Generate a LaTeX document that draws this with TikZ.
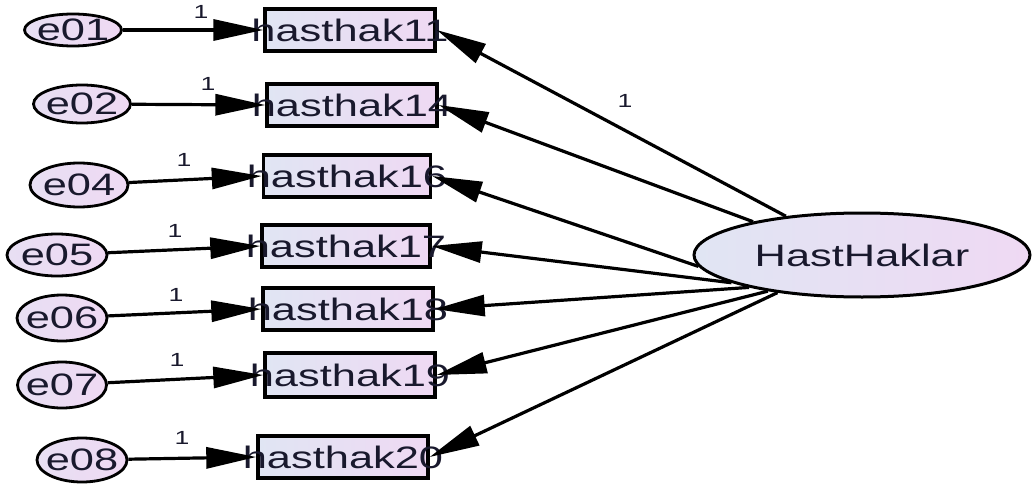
\documentclass[tikz,border=0pt]{standalone}
\usepackage{fontspec}
\setmainfont{Liberation Sans}
\newfontfamily\widefont[FakeStretch=1.4]{Liberation Sans}
\usetikzlibrary{arrows.meta,shapes.geometric}
\definecolor{fillA}{RGB}{224,229,243}
\definecolor{fillB}{RGB}{239,217,243}
\definecolor{ink}{RGB}{25,25,45}
\begin{document}
\begin{tikzpicture}[x=1pt,y=-1pt,
  obs/.style={draw=black, line width=3.4pt, left color=fillA, right color=fillB,
    minimum width=170pt, minimum height=42pt, inner sep=0pt,
    font=\widefont\fontsize{31}{31}\selectfont, text=ink},
  err/.style={ellipse, draw=black, line width=2.8pt, left color=fillA!50!fillB, right color=fillB,
    inner sep=0pt, font=\widefont\fontsize{31}{31}\selectfont, text=ink},
  latent/.style={ellipse, draw=black, line width=3pt, left color=fillA, right color=fillB,
    minimum width=336pt, minimum height=84pt, inner sep=0pt,
    font=\widefont\fontsize{31}{31}\selectfont, text=ink},
  pathA/.style={line width=3.2pt, -{Triangle[length=50pt,width=21pt]}},
  one/.style={font=\widefont\fontsize{19}{19}\selectfont, text=ink, inner sep=0pt}
]
\fill[white] (0,0) rectangle (1032,492);
\useasboundingbox (0,0) rectangle (1032,492);

% latent
\node[latent] (lat) at (862,255) {\makebox[0pt]{HastHaklar}};

% observed
\node[obs] (b11) at (350,30)  {\makebox[0pt]{hasthak11}};
\node[obs] (b14) at (352,105) {\makebox[0pt]{hasthak14}};
\node[obs, minimum width=167pt] (b16) at (347,176) {\makebox[0pt]{hasthak16}};
\node[obs, minimum width=168pt] (b17) at (346,246) {\makebox[0pt]{hasthak17}};
\node[obs] (b18) at (348,309) {\makebox[0pt]{hasthak18}};
\node[obs, minimum height=44pt] (b19) at (350,375) {\makebox[0pt]{hasthak19}};
\node[obs] (b20) at (343,457) {\makebox[0pt]{hasthak20}};

% errors
\node[err, minimum width=97pt, minimum height=32pt] (e01) at (73,30)  {\makebox[0pt]{e01}};
\node[err, minimum width=97pt, minimum height=38pt] (e02) at (82,104) {\makebox[0pt]{e02}};
\node[err, minimum width=98pt, minimum height=44pt] (e04) at (79,185) {\makebox[0pt]{e04}};
\node[err, minimum width=100pt, minimum height=42pt] (e05) at (57,255) {\makebox[0pt]{e05}};
\node[err, minimum width=90pt, minimum height=46pt] (e06) at (62,318) {\makebox[0pt]{e06}};
\node[err, minimum width=89pt, minimum height=46pt] (e07) at (62,385) {\makebox[0pt]{e07}};
\node[err, minimum width=90pt, minimum height=44pt] (e08) at (82,460) {\makebox[0pt]{e08}};

% error paths
\draw[pathA] (e01) -- (b11.west);
\draw[pathA] (e02) -- (b14.west);
\draw[pathA] (e04) -- (b16.west);
\draw[pathA] (e05) -- (b17.west);
\draw[pathA] (e06) -- (b18.west);
\draw[pathA] (e07) -- (b19.west);
\draw[pathA] (e08) -- (b20.west);

% loadings
\draw[pathA] (lat.153) -- (b11.east);
\draw[pathA] (lat.163) -- (b14.east);
\draw[pathA] (lat.184.6) -- (b16.east);
\draw[pathA] (lat.192) -- (b17.east);
\draw[pathA] (lat.196.4) -- (b18.east);
\draw[pathA] (lat.201.3) -- (b19.east);
\draw[pathA] (lat.204) -- (b20.east);

% labels
\node[one] (l01) at (201,12)  {1};
\node[one] (l02) at (208,84)  {1};
\node[one] (l04) at (184,160) {1};
\node[one] (l05) at (175,231) {1};
\node[one] (l06) at (176,295) {1};
\node[one] (l07) at (177,360) {1};
\node[one] (l08) at (182,438) {1};
\node[one] (lL)  at (625,101) {1};
\end{tikzpicture}
\end{document}
